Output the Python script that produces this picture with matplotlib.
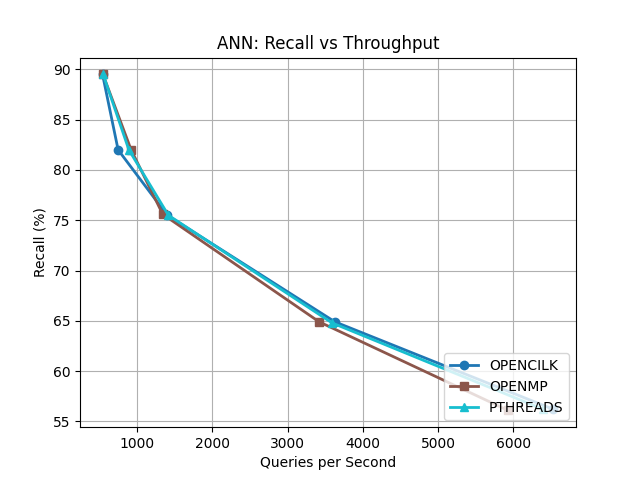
import numpy as np
import matplotlib
matplotlib.use("Agg")
import matplotlib.pyplot as plt

## ================= DATOS =================
impls = ["OPENCILK", "OPENMP", "PTHREADS"]

qps_opencilk = [540, 747, 1400, 3630, 6534]
recall_opencilk = [89.5, 82.0, 75.5, 64.9, 56.2]

qps_openmp = [545, 920, 1340, 3420, 5930]
recall_openmp = [89.5, 82.0, 75.6, 64.9, 56.1]

qps_pthreads = [548, 890, 1415, 3590, 6400]
recall_pthreads = [89.5, 82.0, 75.5, 64.8, 56.2]

qps = [qps_opencilk, qps_openmp, qps_pthreads]
recall = [recall_opencilk, recall_openmp, recall_pthreads]
markers = ["o", "s", "^"]

## ================= GRAFICO =================
colors = plt.cm.tab10(np.linspace(0, 1, len(impls)))

fig, ax = plt.subplots(figsize=(6.4, 4.8), dpi=100)
for name, x, y, m, c in zip(impls, qps, recall, markers, colors):
    ax.plot(x, y, marker=m, lw=2, color=c, label=name)

ax.set_title("ANN: Recall vs Throughput")
ax.set_xlabel("Queries per Second")
ax.set_ylabel("Recall (%)")
ax.grid(True)
ax.legend(loc="lower right")

fig.savefig("out.png")
